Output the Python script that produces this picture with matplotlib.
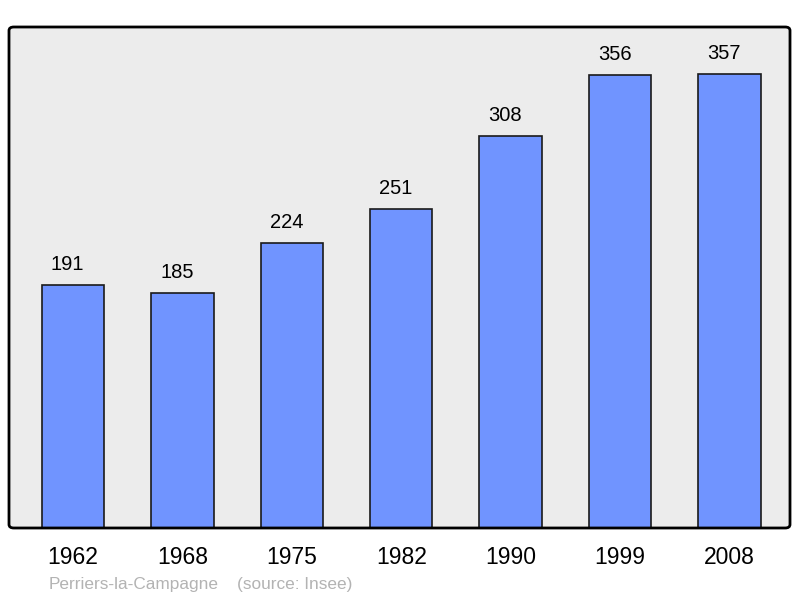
import matplotlib
matplotlib.use("Agg")
import matplotlib.pyplot as plt
from matplotlib.patches import FancyBboxPatch

years = ["1962", "1968", "1975", "1982", "1990", "1999", "2008"]
population = [191, 185, 224, 251, 308, 356, 357]

plt.rcParams['font.family'] = ['Liberation Sans', 'DejaVu Sans']

fig = plt.figure(figsize=(8, 5.98), dpi=100)
ax = fig.add_axes([9/800, 70/598, 781/800, 501/598])
ax.set_facecolor('#ECECEC')

x = list(range(len(years)))
ax.bar(x, population, width=0.57, color='#7094FF', edgecolor='#1a1a1a', linewidth=1.2, zorder=3)
for xi, v in zip(x, population):
    ax.annotate(str(v), (xi, v), xytext=(-4, 10.8), textcoords='offset points',
                ha='center', va='baseline', fontsize=14.5, color='black')

ax.set_xlim(-0.585, 6.553)
ax.set_ylim(0, 394)
ax.set_xticks(x)
ax.set_xticklabels(years, fontsize=16.5)
ax.tick_params(axis='x', length=0, pad=13)
ax.set_yticks([])
for s in ax.spines.values():
    s.set_visible(False)

frame = FancyBboxPatch((9/800, 70/598), 781/800, 501/598,
                       boxstyle="round,pad=0,rounding_size=0.006",
                       transform=fig.transFigure, facecolor='none',
                       edgecolor='black', linewidth=2, zorder=10)
fig.add_artist(frame)

fig.text(49/800, 1 - 584/598, "Perriers-la-Campagne", fontsize=12.4, color='#B3B3B3', va='center')
fig.text(237/800, 1 - 584/598, "(source: Insee)", fontsize=12.4, color='#B3B3B3', va='center')

fig.savefig("out.png", dpi=100)
